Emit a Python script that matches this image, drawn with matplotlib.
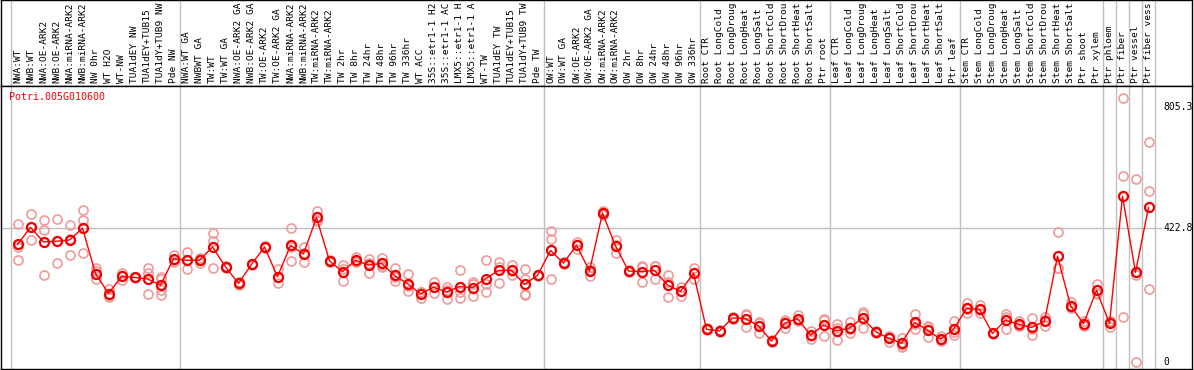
import matplotlib
matplotlib.use('Agg')
import matplotlib.pyplot as plt

gene = 'Potri.005G010600'

# labels as far as they show in the 86 px high label strip
samples = ['NWA:WT', 'NWB:WT', 'NWA:OE-ARK2', 'NWB:OE-ARK2', 'NWA:miRNA-ARK2', 'NWB:miRNA-ARK2',
           'NW 0hr', 'WT H2O', 'WT-NW', 'TUA1dEY NW', 'TUA1dEY+TUB15', 'TUA1dY+TUB9 NW', 'Pde NW',
           'NWA:WT GA', 'NWBWT GA', 'TW:WT', 'TW:WT GA', 'NWA:OE-ARK2 GA', 'NWB:OE-ARK2 GA',
           'TW:OE-ARK2', 'TW:OE-ARK2 GA', 'NWA:miRNA-ARK2', 'NWB:miRNA-ARK2', 'TW:miRNA-ARK2',
           'TW:miRNA-ARK2', 'TW 2hr', 'TW 8hr', 'TW 24hr', 'TW 48hr', 'TW 96hr', 'TW 336hr', 'WT ACC',
           '35S::etr1-1 H2', '35S::etr1-1 AC', 'LMX5::etr1-1 H', 'LMX5::etr1-1 A', 'WT-TW',
           'TUA1dEY TW', 'TUA1dEY+TUB15', 'TUA1dY+TUB9 TW', 'Pde TW',
           'OW:WT', 'OW:WT GA', 'OW:OE-ARK2', 'OW:OE-ARK2 GA', 'OW:miRNA-ARK2', 'OW:miRNA-ARK2',
           'OW 2hr', 'OW 8hr', 'OW 24hr', 'OW 48hr', 'OW 96hr', 'OW 336hr',
           'Root CTR', 'Root LongCold', 'Root LongDroug', 'Root LongHeat', 'Root LongSalt',
           'Root ShortCold', 'Root ShortDrou', 'Root ShortHeat', 'Root ShortSalt', 'Ptr root',
           'Leaf CTR', 'Leaf LongCold', 'Leaf LongDroug', 'Leaf LongHeat', 'Leaf LongSalt',
           'Leaf ShortCold', 'Leaf ShortDrou', 'Leaf ShortHeat', 'Leaf ShortSalt', 'Ptr leaf',
           'Stem CTR', 'Stem LongCold', 'Stem LongDroug', 'Stem LongHeat', 'Stem LongSalt',
           'Stem ShortCold', 'Stem ShortDrou', 'Stem ShortHeat', 'Stem ShortSalt', 'Ptr shoot',
           'Ptr xylem', 'Ptr phloem', 'Ptr fiber', 'Ptr vessel', 'Ptr fiber vess']

means = [371, 425, 379, 381, 385, 422, 279, 216, 270, 267, 262, 242, 326,
         321, 321, 363, 300, 248, 308, 363, 269, 368, 341, 456, 319, 285, 321, 306, 311, 273,
         247, 215, 236, 221, 238, 235, 263, 289, 289, 245, 273,
         352, 312, 368, 287, 470, 366, 287, 285, 289, 243, 223, 280,
         103, 98, 139, 137, 114, 66, 122, 137, 85, 116,
         98, 107, 139, 96, 75, 59, 125, 101, 72, 103,
         169, 166, 90, 132, 119, 109, 129, 334, 178, 121, 226,
         122, 523, 283, 488]

reps = [[434, 322, 364], [466, 384, 425], [447, 416, 275], [450, 311, 381], [431, 337, 387],
        [479, 447, 343], [296, 262, 288], [231, 206, 212], [282, 259, 270], [268, 266, 267],
        [298, 280, 214], [269, 261, 227, 211], [339, 316, 323],
        [347, 294, 322], [329, 313, 321], [407, 381, 296], [302, 298, 300], [252, 244, 248],
        [310, 306, 308], [367, 360, 362], [292, 248, 267], [422, 319, 363], [363, 315, 345],
        [475, 447, 446], [322, 316, 319], [306, 255, 294], [332, 315, 316], [326, 280, 312],
        [327, 299, 307], [296, 255, 268], [277, 224, 240], [222, 201, 222], [253, 217, 238],
        [237, 200, 226], [289, 222, 203], [247, 207, 251], [321, 221, 247], [317, 249, 301],
        [306, 274, 287], [292, 263, 212, 213], [276, 270, 273],
        [413, 387, 261], [315, 309, 312], [378, 358, 368], [271, 299, 291], [476, 464, 470],
        [384, 345, 369], [290, 284, 287], [300, 253, 302], [304, 261, 302], [273, 204, 252],
        [238, 208, 223], [297, 261, 282],
        [106, 100, 103], [101, 95, 98], [142, 136, 139], [149, 111, 151], [127, 92, 123],
        [69, 63, 66], [133, 107, 126], [147, 130, 134], [98, 74, 83], [135, 81, 132],
        [119, 68, 107], [126, 92, 103], [158, 106, 153], [99, 93, 96], [62, 80, 83],
        [77, 46, 54], [151, 103, 121], [114, 80, 109], [82, 66, 68], [128, 85, 96],
        [187, 154, 166], [179, 154, 165], [93, 87, 90], [151, 103, 142], [130, 114, 113],
        [139, 85, 103], [141, 114, 132], [409, 296, 297], [189, 169, 176], [129, 114, 120],
        [246, 217, 215], [109, 128, 129], [832, 588, 143], [576, 273, 0], [693, 539, 229]]

# group sizes (tissue / experiment blocks separated by gray lines)
groups = [13, 28, 12, 10, 10, 11, 1, 1, 1, 1]
yticks = [0, 422.8, 805.3]

mono = 'DejaVu Sans Mono'
W, H = 1194, 370
fig = plt.figure(figsize=(W / 100, H / 100), dpi=100)

x = list(range(len(samples)))
xl = ((1 - 17.5) / 13, (1192 - 17.5) / 13)

# label strip
lab = fig.add_axes([1 / W, (H - 86) / H, 1191 / W, 86 / H])
lab.set_xlim(*xl)
lab.set_ylim(0, 86)
lab.set_xticks([])
lab.set_yticks([])
for i, s in enumerate(samples):
    lab.text(i, 3, s, rotation=90, ha='center', va='bottom', family=mono, fontsize=6.8)

# main plot
ax = fig.add_axes([1 / W, 1 / H, 1191 / W, 283 / H])
ax.set_xlim(*xl)
ax.set_ylim(-22.1, 870.9)
ax.set_xticks([])
ax.set_yticks([])

bounds = [-0.5]
for g in groups:
    bounds.append(bounds[-1] + g)
for b in bounds:
    ax.axvline(b, color='#c0c0c0', lw=1.0, zorder=0)
    lab.axvline(b, color='#c0c0c0', lw=1.0, zorder=0)
ax.hlines(yticks[1], xl[0], 88.0, color='#c0c0c0', lw=1.0, zorder=0)

for i, r in enumerate(reps):
    ax.plot([i] * len(r), r, 'o', ms=6.5, mfc='none', mec='#f09a9a', mew=1.2, zorder=2)
ax.plot(x, means, '-', color='red', lw=1.0, zorder=3)
ax.plot(x, means, 'o', ms=6.5, mfc='none', mec='#ee0000', mew=1.6, zorder=4)

for v in yticks:
    ax.text(88.12, v, f'{v:g}', ha='left', va='center', family=mono, fontsize=7)
ax.text(-0.654, 836, gene, color='red', ha='left', va='center', family=mono, fontsize=7.2)

for a in (ax, lab):
    for sp in a.spines.values():
        sp.set_color('black')
        sp.set_linewidth(1.0)

plt.savefig('out.png', dpi=100)
